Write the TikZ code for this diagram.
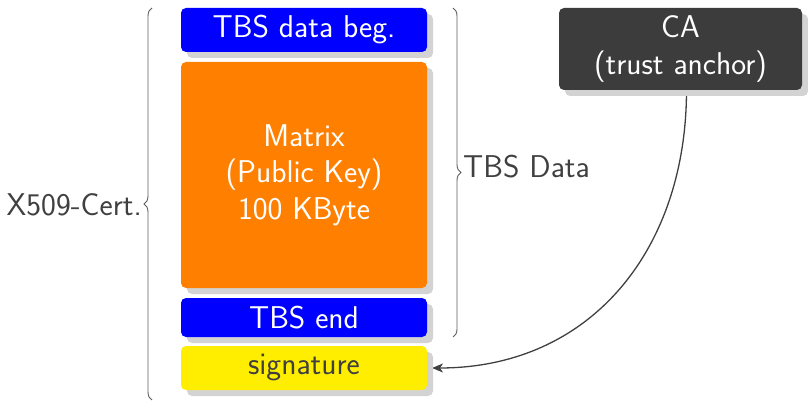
\documentclass[tikz,border=0pt]{standalone}
\usetikzlibrary{shadows,decorations.pathreplacing,arrows.meta}
\definecolor{txtgray}{HTML}{404040}
\definecolor{cadark}{HTML}{3C3C3C}
\definecolor{sigyellow}{HTML}{FFEE00}
\definecolor{shadowgray}{HTML}{D3D3D3}
\begin{document}
\begin{tikzpicture}[x=1pt,y=1pt,
  font=\sffamily\fontsize{31.5}{36.5}\selectfont,
  blk/.style={rectangle, rounded corners=5pt, inner sep=0pt, align=center,
    minimum width=246pt, text=white,
    drop shadow={shadow xshift=6pt, shadow yshift=-6pt, fill=shadowgray, opacity=1}},
  lbl/.style={text=txtgray, inner sep=0pt},
  brc/.style={draw=txtgray!85, line width=0.9pt, decorate, decoration={brace, amplitude=8pt}}
]
\useasboundingbox (0,0) rectangle (808,-403);
\coordinate (castart) at (686.5,-90);
\coordinate (sigend) at (432,-368);
\draw[txtgray, line width=1.3pt, -{Stealth[length=11pt,width=9pt,inset=3pt]}] (castart) to[out=-90,in=0,looseness=1.08] (sigend);

\node[blk, fill=blue, minimum height=44pt] (beg) at (304,-30) {TBS data beg.};
\node[blk, fill=orange, minimum height=226pt] (mat) at (304,-175) {Matrix\\(Public Key)\\100 KByte};
\node[blk, fill=blue, minimum height=39pt] (end) at (304,-317.5) {TBS end};
\node[blk, fill=sigyellow, minimum height=44pt, text=txtgray] (sig) at (304,-368) {signature};
\node[blk, fill=cadark, minimum height=82pt, minimum width=243pt] (ca) at (680.5,-49) {CA\\(trust anchor)};

\coordinate (lb1) at (152,-400);
\coordinate (lb2) at (152,-8);
\draw[brc] (lb1) -- (lb2);
\node[lbl, anchor=east] (cert) at (142,-205) {X509-Cert.};

\coordinate (rb1) at (453,-8);
\coordinate (rb2) at (453,-337);
\draw[brc] (rb1) -- (rb2);
\node[lbl, anchor=west] (tbs) at (463,-167) {TBS Data};
\end{tikzpicture}
\end{document}
